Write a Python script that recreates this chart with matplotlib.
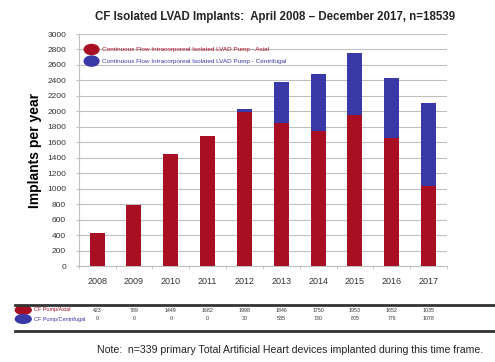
import numpy as np
import matplotlib; matplotlib.use('Agg')
import matplotlib.pyplot as plt
from matplotlib.patches import Ellipse
from matplotlib.lines import Line2D

plt.rcParams.update({'font.family': 'Liberation Sans', 'font.size': 6})
RED = '#A80F22'; BLUE = '#3A37A6'; GRID = '#BFBFBF'; TXT = '#333333'

years = ['2008', '2009', '2010', '2011', '2012', '2013', '2014', '2015', '2016', '2017']
axial = [423, 789, 1449, 1682, 1998, 1846, 1750, 1953, 1652, 1035]
centrifugal = [0, 0, 0, 0, 30, 535, 730, 805, 776, 1078]
lab_ax = 'Continuous Flow Intracorporeal Isolated LVAD Pump - Axial'
lab_cf = 'Continuous Flow Intracorporeal Isolated LVAD Pump - Centrifugal'

fig = plt.figure(figsize=(4.95, 3.62), dpi=100)
ax = fig.add_axes([0.159, 0.265, 0.744, 0.641])
x = np.arange(len(years))
ax.bar(x, axial, width=0.41, color=RED, zorder=3)
ax.bar(x, centrifugal, width=0.41, bottom=axial, color=BLUE, zorder=3)
ax.set_xlim(-0.5, 9.5); ax.set_ylim(0, 3000)
ax.set_yticks(range(0, 3001, 200))
ax.yaxis.grid(True, color=GRID, lw=0.8, zorder=0)
ax.set_xticks(x); ax.set_xticklabels(years, fontsize=6.5, color=TXT)
ax.set_xticks(np.arange(-0.5, 10, 1), minor=True)
ax.tick_params(axis='x', which='major', length=0, pad=8)
ax.tick_params(axis='x', which='minor', length=2, color=GRID)
ax.tick_params(axis='y', length=2, color=GRID, labelsize=6, labelcolor=TXT, pad=7)
for s in ['top', 'right']: ax.spines[s].set_visible(False)
ax.spines['left'].set_color(GRID); ax.spines['bottom'].set_color(GRID)
ax.set_ylabel('Implants per year', fontsize=10, fontweight='bold', labelpad=4)
fig.text(0.555, 0.953, 'CF Isolated LVAD Implants:  April 2008 \u2013 December 2017, n=18539',
         ha='center', va='center', fontsize=8.3, fontweight='bold', color='#222222')

# legend inside plot
for yy, c, lab in [(2800, RED, lab_ax), (2650, BLUE, lab_cf)]:
    ax.add_patch(Ellipse((-0.15, yy), 0.4, 130, color=c, zorder=4))
    ax.text(0.12, yy, lab, color=c, fontsize=4.6, va='center', zorder=4)

# data table below
def fx(i):
    return fig.transFigure.inverted().transform(ax.transData.transform((i, 0)))[0]
fig.add_artist(Line2D([0.03, 1.0], [1 - 305/362, 1 - 305/362], color='#333333', lw=2))
fig.add_artist(Line2D([0.03, 1.0], [1 - 331/362, 1 - 331/362], color='#333333', lw=2))
for row, vals, c, lab in [(310, axial, RED, 'CF Pump/Axial'), (319, centrifugal, BLUE, 'CF Pump/Centrifugal')]:
    yf = 1 - row/362
    fig.add_artist(Ellipse((0.047, yf), 0.032, 0.024, color=c))
    fig.text(0.068, yf, lab, color=c, fontsize=4, va='center')
    for i, v in enumerate(vals):
        fig.text(fx(i), yf, str(v), ha='center', va='center', fontsize=3.8, color=TXT)

fig.text(0.585, 1 - 350/362, 'Note:  n=339 primary Total Artificial Heart devices implanted during this time frame.',
         ha='center', va='center', fontsize=7.6, color='#222222')
fig.savefig('out.png', dpi=100, facecolor='white')
